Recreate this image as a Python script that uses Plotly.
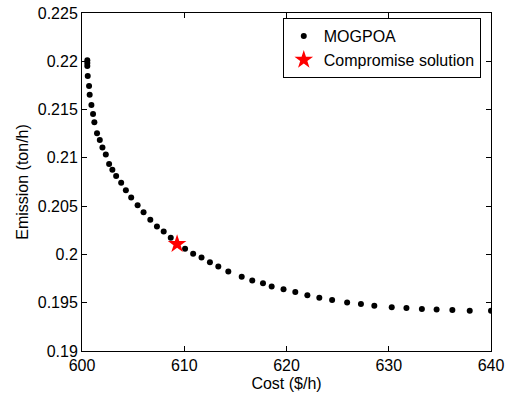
import plotly.graph_objects as go

# Pareto front (MOGPOA)
cost = [600.52, 600.52, 600.52, 600.56, 600.69, 600.75, 600.92, 601.08, 601.21, 601.47,
        601.74, 602.00, 602.33, 602.65, 602.97, 603.34, 603.83, 604.29, 604.81, 605.44,
        606.02, 606.68, 607.33, 607.99, 608.68, 609.30, 610.08, 610.87, 611.69, 612.51,
        613.33, 614.31, 615.62, 616.65, 617.70, 618.55, 619.71, 620.86, 622.04, 623.21,
        624.46, 625.93, 627.28, 628.59, 630.29, 631.73, 633.24, 634.68, 636.22, 637.92,
        640.00]
emission = [0.22010, 0.21982, 0.21951, 0.21847, 0.21744, 0.21654, 0.21547, 0.21454, 0.21368, 0.21254,
            0.21185, 0.21106, 0.21035, 0.20937, 0.20877, 0.20812, 0.20741, 0.20665, 0.20589, 0.20510,
            0.20437, 0.20358, 0.20289, 0.20238, 0.20172, 0.20107, 0.20058, 0.20007, 0.19969, 0.19920,
            0.19876, 0.19824, 0.19769, 0.19731, 0.19701, 0.19667, 0.19640, 0.19612, 0.19576, 0.19552,
            0.19527, 0.19503, 0.19486, 0.19469, 0.19452, 0.19445, 0.19434, 0.19431, 0.19424, 0.19417,
            0.19417]

# Compromise solution
comp_cost = [609.30]
comp_emission = [0.20107]

x_ticks = [600, 610, 620, 630, 640]
x_ticktext = ["600", "610", "620", "630", "640"]
y_ticks = [0.19, 0.195, 0.2, 0.205, 0.21, 0.215, 0.22, 0.225]
y_ticktext = ["0.19", "0.195", "0.2", "0.205", "0.21", "0.215", "0.22", "0.225"]

FONT = "Liberation Sans, Arial, Helvetica, sans-serif"

fig = go.Figure()
fig.add_trace(go.Scatter(
    x=cost, y=emission, mode="markers", name="MOGPOA",
    marker=dict(color="black", size=6, line=dict(width=0)),
))
fig.add_trace(go.Scatter(
    x=comp_cost, y=comp_emission, mode="markers", name="Compromise solution",
    marker=dict(color="red", symbol="star", size=14, line=dict(width=0)),
))

axis_common = dict(
    showgrid=False, zeroline=False, showline=True, linecolor="black", linewidth=1,
    mirror="allticks", ticks="inside", ticklen=5, tickwidth=1, tickcolor="black",
    tickfont=dict(family=FONT, size=16, color="black"),
    ticklabeloverflow="allow",
)

fig.update_layout(
    width=511, height=397,
    margin=dict(l=82, r=20, t=13, b=46, autoexpand=False),
    paper_bgcolor="white", plot_bgcolor="white",
    font=dict(family=FONT, size=16, color="black"),
    xaxis=dict(range=[600, 640], tickvals=x_ticks, ticktext=x_ticktext,
               title=dict(text="Cost ($/h)", font=dict(family=FONT, size=16), standoff=4),
               automargin=False, **axis_common),
    yaxis=dict(range=[0.19, 0.225], tickvals=y_ticks, ticktext=y_ticktext,
               title=dict(text="Emission (ton/h)", font=dict(family=FONT, size=16), standoff=5),
               automargin=False, **axis_common),
    legend=dict(x=0.975, y=0.985, xanchor="right", yanchor="top",
                bgcolor="white", bordercolor="black", borderwidth=1,
                font=dict(family=FONT, size=16, color="black"),
                tracegroupgap=0, itemsizing="trace"),
    showlegend=True,
)

# remove the default 8px page margin so the figure fills the window exactly
fig.write_html("out.html", config={"displayModeBar": False},
               post_script="document.body.style.margin='0';")
